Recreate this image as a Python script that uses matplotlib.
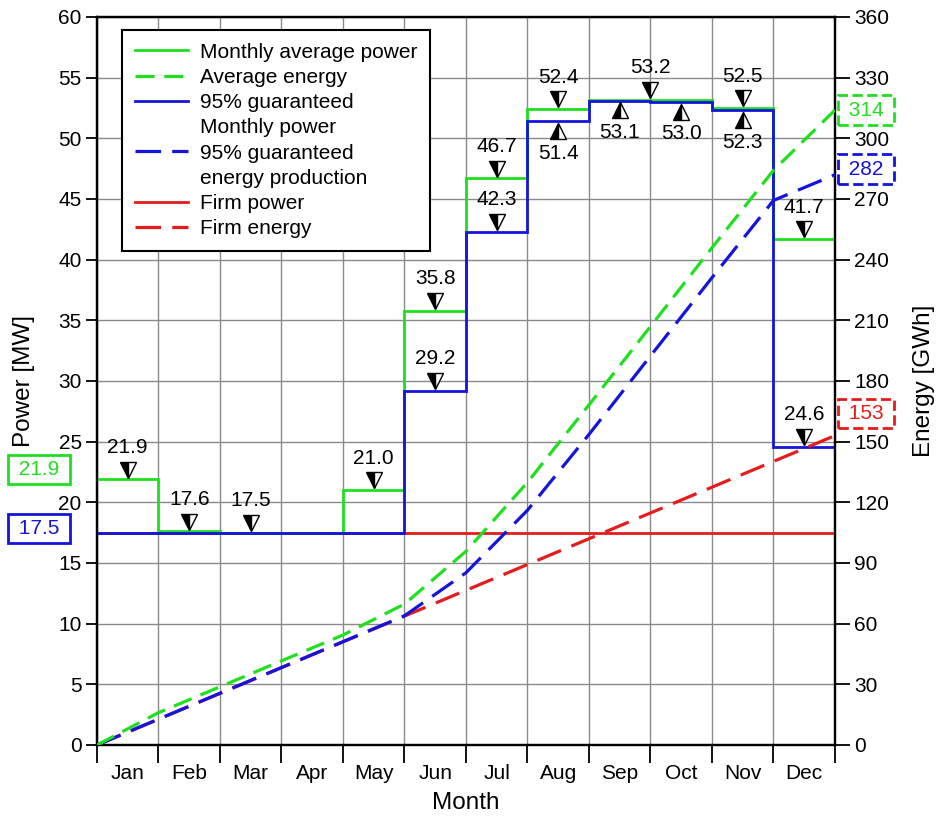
import numpy as np
import matplotlib
matplotlib.use("Agg")
import matplotlib.pyplot as plt
from matplotlib.lines import Line2D
from matplotlib.transforms import offset_copy, blended_transform_factory

plt.rcParams['font.family'] = ['Liberation Sans', 'DejaVu Sans']

# ---------------- data ----------------
months = ["Jan", "Feb", "Mar", "Apr", "May", "Jun", "Jul", "Aug", "Sep", "Oct", "Nov", "Dec"]
avg_power = [21.9, 17.6, 17.5, 17.5, 21.0, 35.8, 46.7, 52.4, 53.2, 53.2, 52.5, 41.7]      # MW
g95_power = [17.5, 17.5, 17.5, 17.5, 17.5, 29.2, 42.3, 51.4, 53.1, 53.0, 52.3, 24.6]      # MW
firm_power = 17.5                                                                           # MW
# cumulative energy at month boundaries (start of Jan .. end of Dec), GWh
avg_energy = [0, 16.0, 28.8, 41.6, 54.4, 69.7, 95.8, 129.9, 168.2, 207.0, 245.9, 284.2, 314]
g95_energy = [0, 12.8, 25.6, 38.3, 51.1, 63.9, 85.2, 116.1, 153.6, 192.4, 231.1, 269.3, 282]
firm_energy = [0, 12.75, 25.5, 38.25, 51.0, 63.75, 76.5, 89.25, 102.0, 114.75, 127.5, 140.25, 153]

# annotation groups
avg_label_groups = [["Jan"], ["Feb"], ["Mar"], ["May"], ["Jun"], ["Jul"], ["Aug"],
                    ["Sep", "Oct"], ["Nov"], ["Dec"]]
g95_label_above = ["Jun", "Jul", "Dec"]
g95_label_below = ["Aug", "Sep", "Oct", "Nov"]

total_avg_energy = 314
total_g95_energy = 282
total_firm_energy = 153

GREEN = '#1ee01e'
BLUE = '#1414dc'
RED = '#e41c1c'
FS = 15

fig = plt.figure(figsize=(9.37, 8.16), dpi=100)
ax = fig.add_axes([97/937, 71/816, 738/937, 728/816])
ax2 = ax.twinx()

edges = np.arange(len(months) + 1)
centers = np.arange(len(months)) + 0.5

# power lines
ax.axhline(firm_power, color=RED, lw=2, zorder=3)
ax.stairs(avg_power, edges, baseline=None, color=GREEN, lw=2, zorder=4)
ax.stairs(g95_power, edges, baseline=None, color=BLUE, lw=2, zorder=5)

# energy lines
ax2.plot(edges, firm_energy, color=RED, lw=2.3, dashes=(8, 3.5), zorder=3)
ax2.plot(edges, g95_energy, color=BLUE, lw=2.3, dashes=(8, 3.5), zorder=4)
ax2.plot(edges, avg_energy, color=GREEN, lw=2.3, dashes=(6, 3), zorder=5)

# axes setup
ax.set_xlim(0, 12)
ax.set_ylim(0, 60)
ax2.set_ylim(0, 360)
ax.set_yticks(np.arange(0, 61, 5))
ax2.set_yticks(np.arange(0, 361, 30))
ax.set_xticks(edges)
ax.set_xticklabels([])
ax.set_xticks(centers, minor=True)
ax.set_xticklabels(months, minor=True)
ax.tick_params(axis='x', which='major', length=13, width=1.3, direction='out')
ax.tick_params(axis='x', which='minor', length=0, pad=14, labelsize=FS)
ax.tick_params(axis='y', length=8, width=1.3, direction='out', labelsize=FS, pad=3)
ax2.tick_params(axis='y', length=11, width=1.3, direction='out', labelsize=FS, pad=3)
ax.grid(True, which='major', color='#8a8a8a', lw=1)
ax.set_axisbelow(True)
for a in (ax, ax2):
    for s in a.spines.values():
        s.set_linewidth(1.6)

ax.set_xlabel("Month", fontsize=17.5, labelpad=6)
ax.set_ylabel("Power [MW]", fontsize=17.5, labelpad=17)
ax2.set_ylabel("Energy [GWh]", fontsize=17.5, labelpad=17)

# annotations
def mark(x, y, up):
    off = -7 if up else 7
    tr = offset_copy(ax.transData, fig=fig, y=off, units='points')
    ax.plot([x], [y], marker='^' if up else 'v', ms=11, fillstyle='left',
            markerfacecolor='black', markerfacecoloralt='white',
            markeredgecolor='black', mew=1.0, transform=tr, zorder=8, clip_on=False)
    toff = -23 if up else 23
    ax.annotate(f"{y:.1f}", (x, y), xytext=(0, toff), textcoords='offset points',
                ha='center', va='center', fontsize=FS, zorder=9)

for grp in avg_label_groups:
    idx = [months.index(m) for m in grp]
    x = np.mean([i + 0.5 for i in idx])
    mark(x, avg_power[idx[0]], False)
for m in g95_label_above:
    i = months.index(m)
    mark(i + 0.5, g95_power[i], False)
for m in g95_label_below:
    i = months.index(m)
    mark(i + 0.5, g95_power[i], True)

# boxed values outside the axes
tl = blended_transform_factory(ax.transAxes, ax.transData)
def left_box(val, color, dy):
    tr = offset_copy(tl, fig=fig, y=dy, units='points')
    ax.text(-0.0786, val, f" {val:.1f} ", transform=tr, ha='center', va='center',
            color=color, fontsize=FS, clip_on=False, zorder=10,
            bbox=dict(boxstyle='square,pad=0.25', fc='white', ec=color, lw=2))
left_box(avg_power[0], GREEN, 7)
left_box(g95_power[0], BLUE, 3)

tr2 = blended_transform_factory(ax2.transAxes, ax2.transData)
def right_box(val, color, dy):
    tr = offset_copy(tr2, fig=fig, y=dy, units='points')
    ax2.text(1.042, val, f" {val:d} ", transform=tr, ha='center', va='center',
             color=color, fontsize=FS, clip_on=False, zorder=10,
             bbox=dict(boxstyle='square,pad=0.25', fc='white', ec=color, lw=2, ls='--'))
right_box(total_avg_energy, GREEN, 0)
right_box(total_g95_energy, BLUE, 4)
right_box(total_firm_energy, RED, 16)

# legend
handles = [
    Line2D([], [], color=GREEN, lw=2),
    Line2D([], [], color=GREEN, lw=2.3, dashes=(6, 3)),
    Line2D([], [], color=BLUE, lw=2),
    Line2D([], [], color='none', lw=0),
    Line2D([], [], color=BLUE, lw=2.3, dashes=(8, 3.5)),
    Line2D([], [], color='none', lw=0),
    Line2D([], [], color=RED, lw=2),
    Line2D([], [], color=RED, lw=2.3, dashes=(8, 3.5)),
]
labels = ["Monthly average power", "Average energy", "95% guaranteed", "Monthly power",
          "95% guaranteed", "energy production", "Firm power", "Firm energy"]
leg = ax2.legend(handles, labels, loc='upper left', bbox_to_anchor=(0.034, 0.982),
                 borderaxespad=0, fontsize=FS, frameon=True, fancybox=False,
                 edgecolor='black', framealpha=1, handlelength=2.55, handletextpad=0.6,
                 labelspacing=0.3, borderpad=0.6)
leg.get_frame().set_linewidth(1.5)
leg.set_zorder(20)

fig.savefig("out.png", dpi=100, facecolor='white')
